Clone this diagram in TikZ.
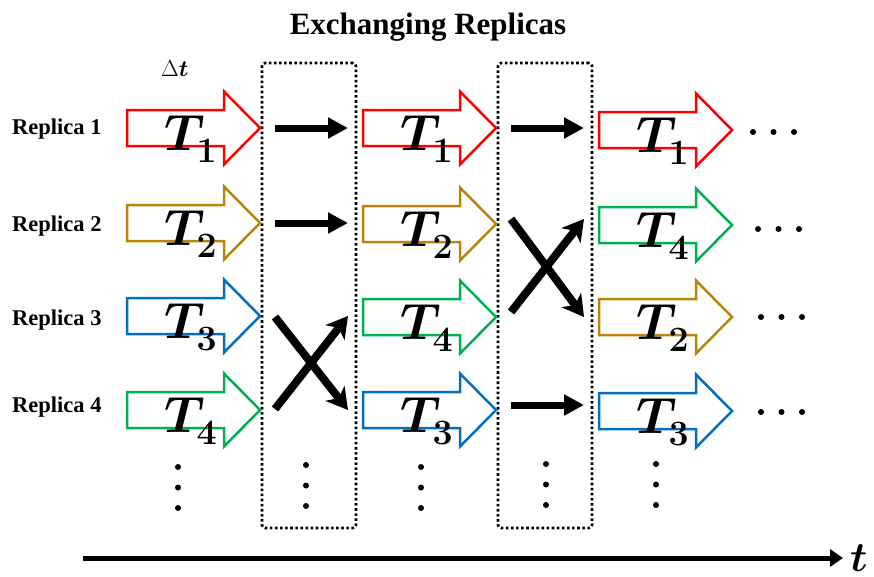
\RequirePackage{fix-cm}
\documentclass[tikz,border=0pt]{standalone}
\usepackage[no-math]{fontspec}
\setmainfont{Liberation Serif}
\usetikzlibrary{arrows.meta,calc}
\definecolor{cred}{HTML}{FF0000}
\definecolor{cgold}{HTML}{B8860B}
\definecolor{cblue}{HTML}{0070C0}
\definecolor{cgreen}{HTML}{00B050}
\tikzset{
  blockarr/.style={line width=2.5pt, line join=miter},
  tlab/.style={anchor=base west, inner sep=0pt, font=\fontsize{51}{51}\selectfont\boldmath},
  replab/.style={anchor=base west, inner sep=0pt, font=\bfseries\fontsize{22.5}{22.5}\selectfont},
  harrow/.style={line width=7pt, -{Triangle[length=20pt,width=20pt]}},
  xarrow/.style={line width=8pt, -{Stealth[length=21pt,width=24pt,inset=6pt]}},
  dotbox/.style={draw, line width=2.6pt, dash pattern=on 2.6pt off 2.5pt, rounded corners=3pt, inner sep=0pt},
  timearrow/.style={line width=5pt, -{Triangle[length=13pt,width=17pt]}},
  vdot/.style={fill=black}
}
\newcommand{\replarrow}[5]{%
  \coordinate (#1) at (#2,#3);
  \coordinate (#1-tip) at (#2+133,#3);
  \draw[blockarr,#4] (#1) -- ++(0,-18) -- ++(97,0) -- ++(0,-18.5) -- (#1-tip) -- ++(-36,36.5) -- ++(0,-18.5) -- ++(-97,0) -- cycle;
  \node[tlab] (#1-lab) at (#2+37,#3+22) {$T_{\lower5pt\hbox{$\scriptstyle #5$}}$};
}
\begin{document}
\begin{tikzpicture}[x=1pt,y=-1pt]
\useasboundingbox (0,0) rectangle (874,576);
% title
\node[inner sep=0pt, font=\bfseries\fontsize{31}{31}\selectfont] (title) at (428,27) {Exchanging Replicas};
\node[anchor=base west, inner sep=0pt, font=\fontsize{23}{23}\selectfont] (dt) at (161,76) {$\Delta${\boldmath$t$}};
% dotted boxes
\node[dotbox, minimum width=94pt, minimum height=465pt] (box1) at (309,295.5) {};
\node[dotbox, minimum width=94pt, minimum height=465pt] (box2) at (545,295.5) {};
% replica labels
\node[replab] (lab1) at (12,134) {Replica 1};
\node[replab] (lab2) at (12,231) {Replica 2};
\node[replab] (lab3) at (12,325) {Replica 3};
\node[replab] (lab4) at (12,412) {Replica 4};
% column 1
\replarrow{a11}{127}{128}{cred}{1}
\replarrow{a12}{127}{223}{cgold}{2}
\replarrow{a13}{127}{316}{cblue}{3}
\replarrow{a14}{127}{410}{cgreen}{4}
% column 2
\replarrow{a21}{363}{128}{cred}{1}
\replarrow{a22}{363}{224}{cgold}{2}
\replarrow{a23}{363}{317}{cgreen}{4}
\replarrow{a24}{363}{410}{cblue}{3}
% column 3
\replarrow{a31}{599}{130}{cred}{1}
\replarrow{a32}{599}{225}{cgreen}{4}
\replarrow{a33}{599}{317}{cgold}{2}
\replarrow{a34}{599}{411}{cblue}{3}
% exchange arrows box 1
\draw[harrow] ($(a11-tip)+(15,0)$) -- ($(a21)+(-15,0)$);
\draw[harrow] ($(a12-tip)+(15,0)$) -- ($(a22)+(-15,-1)$);
\draw[xarrow] ($(a13-tip)+(15,1)$) -- ($(a24)+(-15,0)$);
\draw[xarrow] ($(a14-tip)+(15,-1)$) -- ($(a23)+(-15,-1)$);
% exchange arrows box 2
\draw[harrow] ($(a21-tip)+(15,0)$) -- ($(a31)+(-15,-2)$);
\draw[xarrow] ($(a22-tip)+(15,-5)$) -- ($(a33)+(-15,0)$);
\draw[xarrow] ($(a23-tip)+(15,-5)$) -- ($(a32)+(-15,-6)$);
\draw[harrow] ($(a24-tip)+(15,-5)$) -- ($(a34)+(-15,-6)$);
% vertical dots
\foreach \xx/\yy in {178/467, 306/465, 421/467, 546/464, 656/464}{
  \fill[vdot] (\xx,\yy) circle[radius=3pt];
  \fill[vdot] (\xx,\yy+20.5) circle[radius=3pt];
  \fill[vdot] (\xx,\yy+41) circle[radius=3pt];
}
% horizontal dots
\foreach \xx/\yy in {753/132, 758/229, 761/317, 761/412}{
  \fill[vdot] (\xx,\yy) circle[radius=3pt];
  \fill[vdot] (\xx+20.5,\yy) circle[radius=3pt];
  \fill[vdot] (\xx+41,\yy) circle[radius=3pt];
}
% time axis
\coordinate (t0) at (83,558);
\coordinate (t1) at (843,558);
\draw[timearrow] (t0) -- (t1);
\node[anchor=base west, inner sep=0pt, font=\fontsize{42}{42}\selectfont\boldmath] (tlabel) at (850,571) {$t$};
\end{tikzpicture}
\end{document}
